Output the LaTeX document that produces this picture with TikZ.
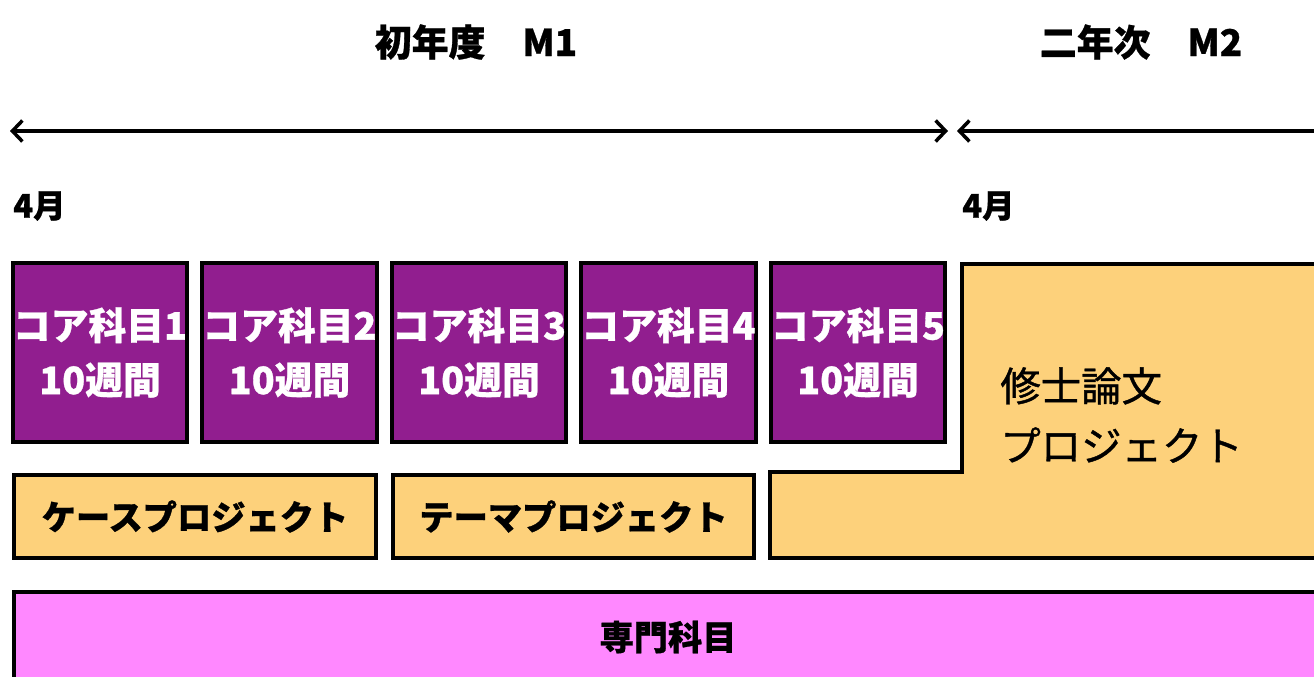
\documentclass[tikz,border=0pt]{standalone}
\usepackage{fontspec}
\setmainfont{Noto Sans CJK JP}[BoldFeatures={FakeBold=0.8}]
\usetikzlibrary{arrows.meta}
\usetikzlibrary{positioning}
\definecolor{corepurple}{HTML}{911E8F}
\definecolor{projorange}{HTML}{FDD17B}
\definecolor{specpink}{HTML}{FF88FF}

\begin{document}
\begin{tikzpicture}[x=0.02cm,y=-0.02cm,>={Straight Barb[length=2mm,width=4.2mm]},every node/.style={inner sep=0pt}]
\tikzstyle{core} = [draw=black, line width=2.3pt, fill=corepurple, text=white, align=center, font=\bfseries\fontsize{21.5}{31}\selectfont, minimum width=3.48cm, minimum height=3.58cm]
\tikzstyle{proj} = [draw=black, line width=2.3pt, fill=projorange, font=\bfseries\fontsize{19.5}{24}\selectfont, minimum width=7.24cm, minimum height=1.66cm]
\tikzstyle{head} = [font=\bfseries\fontsize{21}{24}\selectfont]
\tikzstyle{month} = [font=\bfseries\fontsize{18.5}{22}\selectfont]
\tikzstyle{span} = [line width=2pt]
\useasboundingbox (0,0) rectangle (1314,676);

% years
\node[head] (m1) at (476,42) {初年度　M1};
\node[head] (m2) at (1141,42) {二年次　M2};
\coordinate (y1l) at (10,131);
\coordinate (y1r) at (948,131);
\coordinate (y2l) at (957,131);
\coordinate (y2r) at (1330,131);
\draw[span,<->] (y1l) -- (y1r);
\draw[span,<-] (y2l) -- (y2r);
\node[month,anchor=west] (apr1) at (13,206) {4月};
\node[month,anchor=west] (apr2) at (962,206) {4月};

% core courses
\foreach \i in {1,...,5}
  \node[core] (c\i) at ({100+189.5*(\i-1)},352.5) {コア科目\i\\10週間};

% projects
\node[proj] (case) at (195,516.5) {ケースプロジェクト};
\node[proj] (theme) at (573.5,516.5) {テーマプロジェクト};
\draw[line width=2.3pt, fill=projorange] (962,264) -- (1330,264) -- (1330,558) -- (770,558)
  -- (770,472) -- (962,472) -- cycle;
\node[anchor=west, align=left, font=\fontsize{23}{34}\selectfont\addfontfeature{FakeBold=1}] (thesis) at (1000,415) {修士論文\\プロジェクト};

% specialised courses
\draw[line width=2.3pt, fill=specpink] (14,700) -- (14,592) -- (1330,592) -- (1330,700);
\node[font=\bfseries\fontsize{19.5}{24}\selectfont] (spec) at (668,637) {専門科目};
\end{tikzpicture}
\end{document}
